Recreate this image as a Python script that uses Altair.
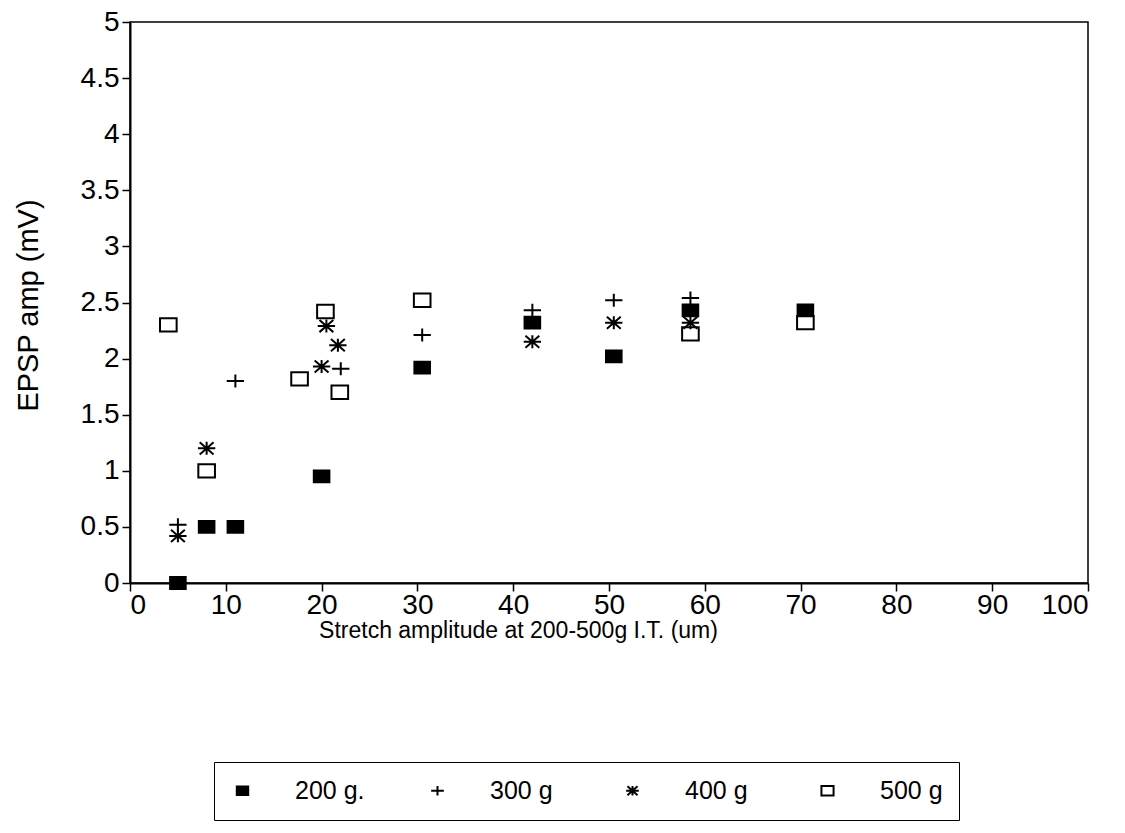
import altair as alt
import pandas as pd

# ---- data ----
loads = ["200 g.", "300 g", "400 g", "500 g"]

x_200 = [5, 8, 11, 20, 30.5, 42, 50.5, 58.5, 70.5]
y_200 = [0, 0.5, 0.5, 0.95, 1.92, 2.32, 2.02, 2.43, 2.43]

x_300 = [5, 11, 22, 30.5, 42, 50.5, 58.5]
y_300 = [0.52, 1.8, 1.91, 2.21, 2.43, 2.52, 2.54]

x_400 = [5, 8, 20, 20.5, 21.7, 42, 50.5, 58.5]
y_400 = [0.42, 1.2, 1.93, 2.29, 2.12, 2.15, 2.32, 2.32]

x_500 = [4, 8, 17.7, 20.4, 21.9, 30.5, 58.5, 70.5]
y_500 = [2.3, 1.0, 1.82, 2.42, 1.70, 2.52, 2.22, 2.32]

x_ticks = [0, 10, 20, 30, 40, 50, 60, 70, 80, 90, 100]
y_ticks = [0, 0.5, 1, 1.5, 2, 2.5, 3, 3.5, 4, 4.5, 5]

rows = []
for name, xs, ys in zip(loads, [x_200, x_300, x_400, x_500], [y_200, y_300, y_400, y_500]):
    for a, b in zip(xs, ys):
        rows.append({"load": name, "x": a, "y": b})
df = pd.DataFrame(rows)

# marker shapes (unit paths)
filled_sq = "M-0.9,-0.68L0.9,-0.68L0.9,0.68L-0.9,0.68Z"
plus = "M-1,0L1,0M0,-0.75L0,0.75"
aster = "M-1,0L1,0M0,-0.75L0,0.75M-0.8,-0.7L0.8,0.7M-0.8,0.7L0.8,-0.7"
open_sq = "M-0.96,-0.77L0.96,-0.77L0.96,0.77L-0.96,0.77Z"

FONT = "Liberation Sans"

leg = dict(title=None, orient="none", legendX=84, legendY=740,
           direction="horizontal", columns=4, gridAlign="all",
           symbolSize=160, labelOffset=40, columnPadding=60,
           padding=16, strokeColor="black", fillColor="white",
           symbolStrokeColor="black", symbolStrokeWidth=2,
           labelFont=FONT, labelFontSize=25, labelColor="black")

chart = alt.Chart(df).mark_point(size=300, strokeWidth=2, opacity=1, clip=False).encode(
    x=alt.X("x:Q",
            scale=alt.Scale(domain=[0, 100], nice=False, zero=False),
            axis=alt.Axis(values=x_ticks, title="Stretch amplitude at 200-500g I.T. (um)",
                          titleX=388, titleY=47, titleAlign="center", titleBaseline="middle",
                          labelPadding=0, format="d")),
    y=alt.Y("y:Q",
            scale=alt.Scale(domain=[0, 5], nice=False, zero=False),
            axis=alt.Axis(values=y_ticks, title="EPSP amp (mV)", format=".1~f",
                          titleX=-102, titleY=283, titleAngle=-90, titleAlign="center",
                          titleBaseline="middle", labelPadding=3)),
    shape=alt.Shape("load:N",
                    scale=alt.Scale(domain=loads, range=[filled_sq, plus, aster, open_sq]),
                    legend=alt.Legend(**leg)),
    fill=alt.Fill("load:N",
                  scale=alt.Scale(domain=loads, range=["black", "transparent", "transparent", "transparent"]),
                  legend=alt.Legend(**leg)),
    stroke=alt.Stroke("load:N",
                      scale=alt.Scale(domain=loads, range=["black", "black", "black", "black"]),
                      legend=alt.Legend(**leg)),
).properties(
    width=958, height=561,
    autosize=alt.AutoSizeParams(type="none"),
    padding={"left": 130, "top": 22, "right": 37, "bottom": 250},
    background="white",
).configure_view(
    stroke="black", strokeWidth=1.5
).configure_axis(
    grid=False, domainColor="black", domainWidth=2, tickColor="black", tickWidth=1.5,
    tickSize=8, labelFont=FONT, labelFontSize=28, labelColor="black",
    titleFont=FONT, titleColor="black", titleFontWeight="normal"
).configure_axisX(
    titleFontSize=23
).configure_axisY(
    titleFontSize=29
).configure_legend(
    labelFont=FONT
)

chart.save("out.html", embed_options={"renderer": "svg", "actions": False})
